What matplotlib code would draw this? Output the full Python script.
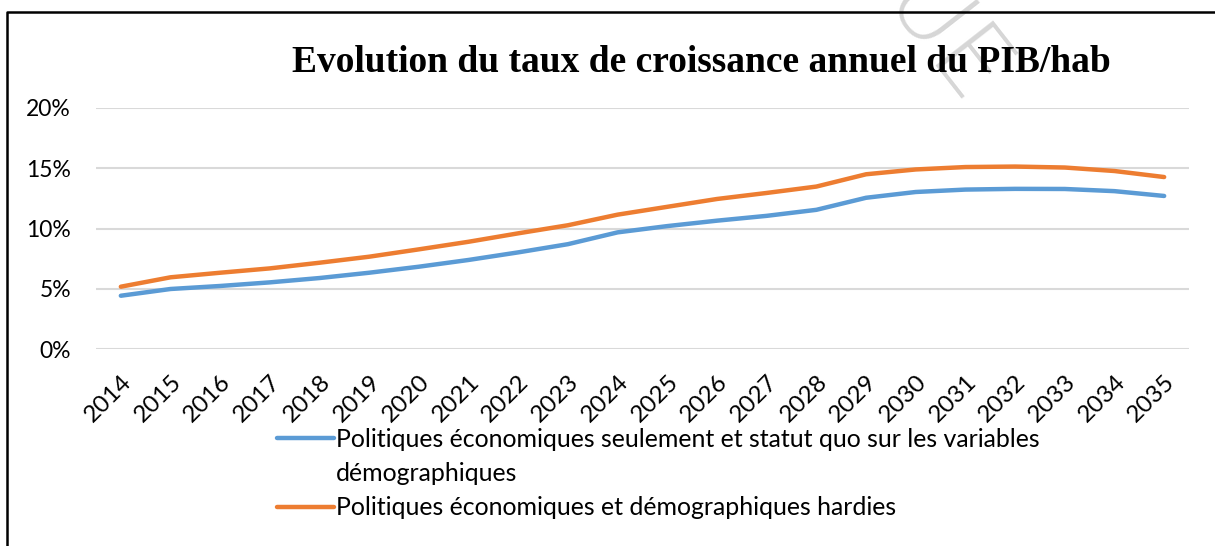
import matplotlib
matplotlib.use('Agg')
import matplotlib.pyplot as plt
from matplotlib.lines import Line2D
from matplotlib.ticker import FuncFormatter

# Data (percent)
years = [str(y) for y in range(2014, 2036)]
politiques_eco = [4.42, 4.98, 5.23, 5.53, 5.89, 6.33, 6.83, 7.39, 8.02, 8.70, 9.68, 10.20,
                  10.65, 11.05, 11.55, 12.55, 13.03, 13.23, 13.29, 13.28, 13.10, 12.70]
politiques_eco_demo = [5.17, 5.95, 6.33, 6.69, 7.16, 7.66, 8.27, 8.90, 9.60, 10.27, 11.15, 11.80,
                       12.45, 12.95, 13.48, 14.50, 14.90, 15.10, 15.14, 15.06, 14.77, 14.27]
y_ticks = [0, 5, 10, 15, 20]
title = 'Evolution du taux de croissance annuel du PIB/hab'
legend_labels = ['Politiques économiques seulement et statut quo sur les variables',
                 'démographiques',
                 'Politiques économiques et démographiques hardies']

BLUE = '#5B9BD5'
ORANGE = '#ED7D31'
GRID = '#D9D9D9'
W, H = 1215, 546

plt.rcParams['font.family'] = ['Lato', 'DejaVu Sans']

fig = plt.figure(figsize=(W / 100, H / 100), dpi=100)
ax = fig.add_axes([96 / W, 1 - 349 / H, 1093 / W, 241 / H])

x = list(range(len(years)))
l1, = ax.plot(x, politiques_eco, color=BLUE, lw=3.2, solid_capstyle='round')
l2, = ax.plot(x, politiques_eco_demo, color=ORANGE, lw=3.2, solid_capstyle='round')

ax.set_xlim(-0.5, len(years) - 0.5)
ax.set_ylim(0, 20)
ax.set_yticks(y_ticks)
ax.yaxis.set_major_formatter(FuncFormatter(lambda v, p: f'{v:.0f}%'))
ax.set_xticks(x)
ax.set_xticklabels(years, rotation=45, ha='right', rotation_mode='anchor')
ax.grid(axis='y', color=GRID, lw=1.5)
ax.set_axisbelow(True)
for s in ax.spines.values():
    s.set_visible(False)
ax.tick_params(axis='y', length=0, pad=18, labelsize=16.5, colors='#000000')
ax.tick_params(axis='x', length=0, pad=16, labelsize=17.5, colors='#000000')

# Faint watermark at the top (cut by the edge, as in the original), behind the title
fig.text(942 / W, 1 - 44 / H, 'UE', ha='center', va='center', rotation=-52,
         color='#d6d6d6', fontsize=72, family='DejaVu Sans', weight='light', zorder=1)

# Title
fig.text(701 / W, 1 - 62 / H, title, ha='center', va='center',
         family='Liberation Serif', weight='bold', fontsize=27, zorder=5)

# Legend (second line of the first label kept under the text, like Excel)
blank = Line2D([], [], color='none')
fig.legend([l1, blank, l2], legend_labels, loc='upper left',
           bbox_to_anchor=(277 / W, 1 - 428 / H), frameon=False,
           fontsize=17.9, handlelength=2.3, handletextpad=0.08,
           labelspacing=0.45, borderaxespad=0, borderpad=0)

# Frame of the original figure (top and left edges visible)
fig.add_artist(Line2D([7 / W, 7 / W, 1], [0, 1 - 12 / H, 1 - 12 / H],
                      color='black', lw=1.8, transform=fig.transFigure))

fig.savefig('out.png', dpi=100)
